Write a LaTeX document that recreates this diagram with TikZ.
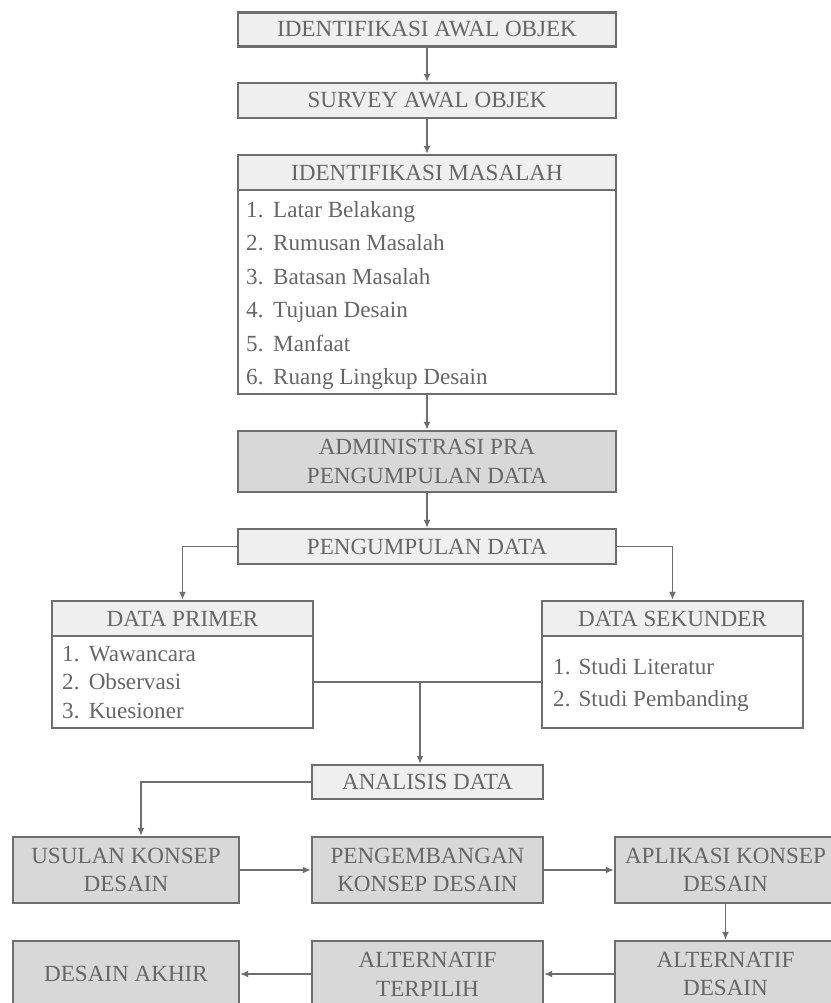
\documentclass[tikz,border=0pt]{standalone}
\usepackage{fontspec}
\setmainfont{Liberation Serif}
\usetikzlibrary{arrows.meta,calc}
\definecolor{ink}{HTML}{666666}
\definecolor{edge}{HTML}{6E6E6E}
\definecolor{lightfill}{HTML}{EFEFEF}
\definecolor{darkfill}{HTML}{D8D8D8}
\newcommand{\numgap}{\hspace{0.42em}}
\begin{document}
\begin{tikzpicture}[x=1bp,y=-1bp,
  every node/.style={text=ink, font=\fontsize{23.2}{29}\selectfont, inner sep=0pt},
  box/.style={draw=edge, line width=2.4bp, rectangle, align=center},
  lightbox/.style={box, fill=lightfill},
  darkbox/.style={box, fill=darkfill},
  bodybox/.style={box, fill=white},
  item/.style={anchor=base west},
  flow/.style={draw=edge, line width=1.4bp, -{Latex[length=8bp,width=7bp]}},
  link/.style={draw=edge, line width=1.4bp}]

\useasboundingbox (0,0) rectangle (831,1003);
\clip (0,0) rectangle (831,1003);
\fill[white] (0,0) rectangle (831,1003);

% opening steps
\node[lightbox, minimum width=378bp, minimum height=34bp] (awal) at (427,29.5) {IDENTIFIKASI AWAL OBJEK};
\node[lightbox, minimum width=378bp, minimum height=35bp] (survey) at (427,100.5) {SURVEY AWAL OBJEK};

% problem identification with its list
\node[bodybox, minimum width=378bp, minimum height=204bp] (masalahbody) at (427,292) {};
\node[lightbox, minimum width=378bp, minimum height=35bp] (masalah) at (427,172.5) {IDENTIFIKASI MASALAH};
\node[item] (m1) at (246,217) {1.\numgap Latar Belakang};
\node[item] (m2) at (246,250.5) {2.\numgap Rumusan Masalah};
\node[item] (m3) at (246,284) {3.\numgap Batasan Masalah};
\node[item] (m4) at (246,317.5) {4.\numgap Tujuan Desain};
\node[item] (m5) at (246,351) {5.\numgap Manfaat};
\node[item] (m6) at (246,384.5) {6.\numgap Ruang Lingkup Desain};

\node[darkbox, minimum width=378bp, minimum height=61bp] (admin) at (427,461.5) {ADMINISTRASI PRA\\PENGUMPULAN DATA};
\node[lightbox, minimum width=378bp, minimum height=35bp] (kumpul) at (427,546.5) {PENGUMPULAN DATA};

% primary data
\node[bodybox, minimum width=261bp, minimum height=92bp] (primerbody) at (182.5,682) {};
\node[lightbox, minimum width=261bp, minimum height=35bp] (primer) at (182.5,618.5) {DATA PRIMER};
\node[item] (p1) at (62,661) {1.\hspace{0.4em}Wawancara};
\node[item] (p2) at (62,689.5) {2.\hspace{0.4em}Observasi};
\node[item] (p3) at (62,718) {3.\hspace{0.4em}Kuesioner};

% secondary data
\node[bodybox, minimum width=261bp, minimum height=92bp] (sekunderbody) at (672.5,682) {};
\node[lightbox, minimum width=261bp, minimum height=35bp] (sekunder) at (672.5,618.5) {DATA SEKUNDER};
\node[item] (s1) at (553,674) {1.\hspace{0.35em}Studi Literatur};
\node[item] (s2) at (553,706) {2.\hspace{0.35em}Studi Pembanding};

\node[lightbox, minimum width=231bp, minimum height=34bp] (analisis) at (427.5,782) {ANALISIS DATA};

% design stages
\node[darkbox, minimum width=226bp, minimum height=66bp] (usulan) at (126,870) {USULAN KONSEP\\DESAIN};
\node[darkbox, minimum width=231bp, minimum height=66bp] (kembang) at (427.5,870) {PENGEMBANGAN\\KONSEP DESAIN};
\node[darkbox, minimum width=221bp, minimum height=66bp] (aplikasi) at (725.5,870) {APLIKASI KONSEP\\DESAIN};
\node[darkbox, minimum width=226bp, minimum height=66bp] (akhir) at (126,974) {DESAIN AKHIR};
\node[darkbox, minimum width=231bp, minimum height=66bp] (terpilih) at (427.5,974) {ALTERNATIF\\TERPILIH};
\node[darkbox, minimum width=221bp, minimum height=66bp] (altdesain) at (725.5,974) {ALTERNATIF\\DESAIN};

% connectors
\draw[flow] (awal) -- (survey);
\draw[flow] (survey) -- (masalah);
\draw[flow] (masalahbody) -- (admin);
\draw[flow] (admin) -- (kumpul);
\draw[flow] (kumpul.west) -| (primer.north);
\draw[flow] (kumpul.east) -| (sekunder.north);
\draw[link] (primerbody.east) -- (sekunderbody.west);
\coordinate (join) at (420,682);
\draw[flow] (join) -- (join |- analisis.north);
\coordinate (turn) at (141,782);
\draw[flow] (analisis.west) -- (turn) -- (turn |- usulan.north);
\draw[flow] (usulan) -- (kembang);
\draw[flow] (kembang) -- (aplikasi);
\draw[flow] (aplikasi) -- (altdesain);
\draw[flow] (altdesain) -- (terpilih);
\draw[flow] (terpilih) -- (akhir);
\end{tikzpicture}
\end{document}
